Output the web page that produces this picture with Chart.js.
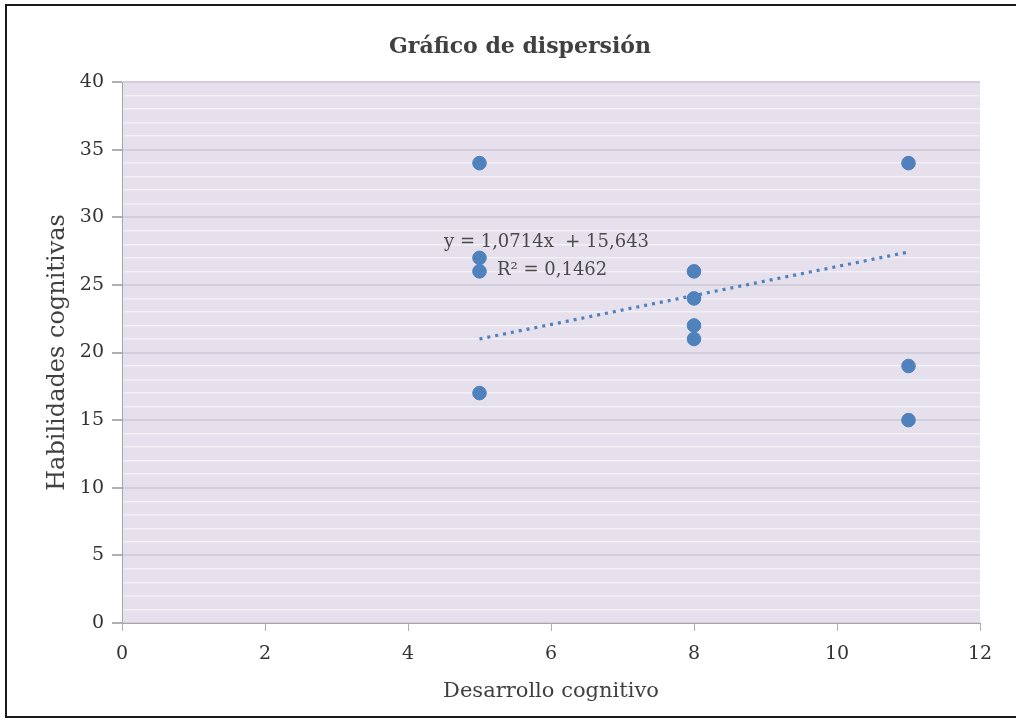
<!DOCTYPE html>
<html>
<head>
<meta charset="utf-8">
<script src="https://cdn.jsdelivr.net/npm/chart.js@4"></script>
<style>
  body { margin: 0; background: #fff; }
  #wrap { position: relative; width: 1016px; height: 720px; }
</style>
</head>
<body>
<div id="wrap"><canvas id="scatterChart" width="1016" height="720"></canvas></div>
<script>
// valores
const desarrollo = [5, 5, 5, 5, 8, 8, 8, 8, 11, 11, 11];
const habilidades = [34, 27, 26, 17, 26, 24, 22, 21, 34, 19, 15];
const trendSlope = 1.0714;
const trendIntercept = 15.643;
const trendLabels = ["y = 1,0714x  + 15,643", "R² = 0,1462"];
const chartTitle = "Gráfico de dispersión";
const yTicks = [0, 5, 10, 15, 20, 25, 30, 35, 40];
const xTicks = [0, 2, 4, 6, 8, 10, 12];

const blue = "#4f81bd";
const serif = "'DejaVu Serif', 'Liberation Serif', serif";

const points = desarrollo.map((x, i) => ({ x: x, y: habilidades[i] }));
const xMin = Math.min(...desarrollo);
const xMax = Math.max(...desarrollo);
const trend = [xMin, xMax].map((x) => ({ x: x, y: trendSlope * x + trendIntercept }));

const frameAndBackground = {
  id: "frameAndBackground",
  beforeDraw(chart) {
    const { ctx, chartArea } = chart;
    ctx.save();
    ctx.fillStyle = "#fff";
    ctx.fillRect(0, 0, chart.width, chart.height);
    ctx.fillStyle = "#e5e0ec";
    ctx.fillRect(chartArea.left, chartArea.top, chartArea.right - chartArea.left, chartArea.bottom - chartArea.top);
    ctx.strokeStyle = "#1a1a1a";
    ctx.lineWidth = 2;
    ctx.strokeRect(6, 5, chart.width + 10, 712);
    // titulo (un poco a la izquierda del centro, como en Excel)
    ctx.fillStyle = "#404040";
    ctx.font = "bold 22px " + serif;
    ctx.textAlign = "center";
    ctx.textBaseline = "middle";
    ctx.fillText(chartTitle, 520, 47);
    ctx.restore();
  },
  afterDatasetsDraw(chart) {
    const { ctx, chartArea } = chart;
    ctx.save();
    ctx.fillStyle = "#4a4a4a";
    ctx.font = "18px " + serif;
    ctx.textBaseline = "middle";
    ctx.fillText(trendLabels[0], chartArea.left + 322, 242);
    ctx.fillText(trendLabels[1], chartArea.left + 375, 270);
    ctx.restore();
  },
};

new Chart(document.getElementById("scatterChart"), {
  type: "scatter",
  data: {
    datasets: [
      {
        label: "Habilidades cognitivas",
        data: points,
        backgroundColor: blue,
        borderColor: blue,
        pointRadius: 6.8,
        pointHoverRadius: 6.8,
      },
      {
        label: "Lineal",
        data: trend,
        showLine: true,
        borderColor: blue,
        borderWidth: 3.2,
        borderDash: [3, 5],
        pointRadius: 0,
        fill: false,
      },
    ],
  },
  options: {
    responsive: false,
    animation: false,
    layout: { padding: { left: 6, right: 36, top: 82, bottom: 0 } },
    plugins: {
      legend: { display: false },
      tooltip: { enabled: false },
      title: { display: false },
    },
    scales: {
      x: {
        type: "linear",
        min: 0,
        max: 12,
        afterBuildTicks: (axis) => { axis.ticks = xTicks.map((v) => ({ value: v })); },
        afterFit: (axis) => { axis.height = 97; },
        ticks: {
          color: "#333",
          font: { family: serif, size: 19 },
          padding: 12,
        },
        grid: {
          drawOnChartArea: false,
          drawTicks: true,
          tickLength: 8,
          tickColor: "#b0b0b0",
        },
        border: { color: "#a6a6a6", width: 1 },
        title: {
          display: true,
          text: "Desarrollo cognitivo",
          color: "#404040",
          font: { family: serif, size: 21 },
          padding: { top: 4, bottom: 16 },
        },
      },
      y: {
        min: 0,
        max: 40,
        afterBuildTicks: (axis) => {
          const t = [];
          for (let v = 0; v <= 40; v++) t.push({ value: v });
          axis.ticks = t;
        },
        afterFit: (axis) => { axis.width = 116; },
        ticks: {
          autoSkip: false,
          color: "#333",
          font: { family: serif, size: 19 },
          padding: 8,
          callback: (v) => (yTicks.includes(v) ? String(v) : ""),
        },
        grid: {
          drawTicks: true,
          tickLength: 10,
          color: (c) => (c.tick && c.tick.value % 5 === 0 ? "#d3cedb" : "#f2eff6"),
          lineWidth: (c) => (c.tick && c.tick.value % 5 === 0 ? 2 : 1.5),
          tickColor: (c) => (c.tick && c.tick.value % 5 === 0 ? "#b0b0b0" : "rgba(0,0,0,0)"),
        },
        border: { color: "#a6a6a6", width: 1 },
        title: {
          display: true,
          text: "Habilidades cognitivas",
          color: "#404040",
          font: { family: serif, size: 24 },
          padding: { top: 37, bottom: 0 },
        },
      },
    },
  },
  plugins: [frameAndBackground],
});
</script>
</body>
</html>
